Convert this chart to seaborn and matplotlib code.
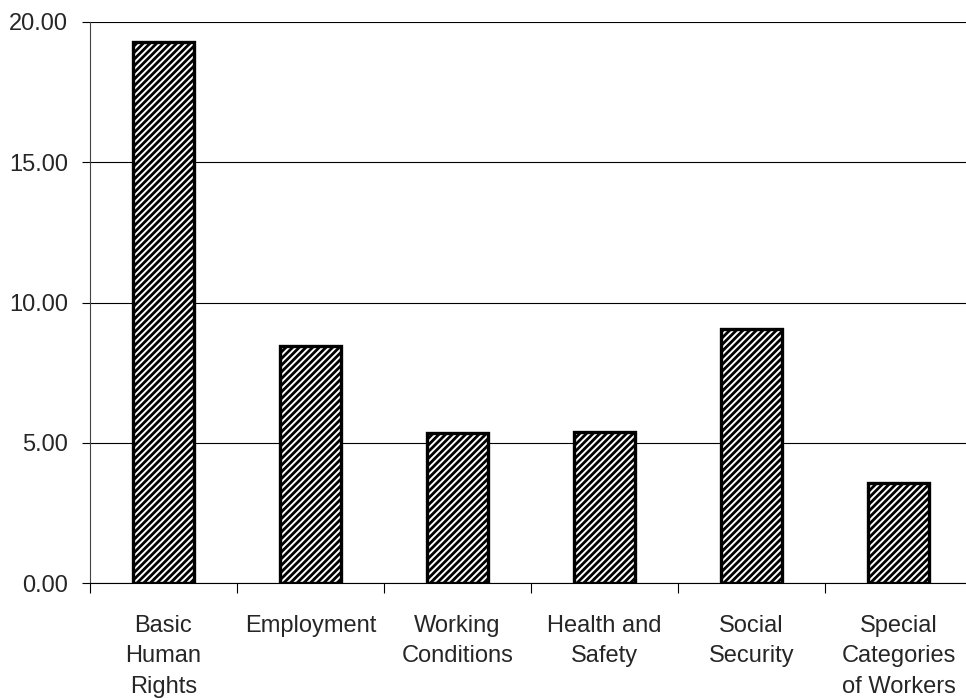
import matplotlib
matplotlib.use("Agg")
import matplotlib.pyplot as plt
import seaborn as sns
from matplotlib.ticker import FormatStrFormatter, FixedLocator

# Values
categories = ["Basic\nHuman\nRights", "Employment", "Working\nConditions",
              "Health and\nSafety", "Social\nSecurity", "Special\nCategories\nof Workers"]
values = [19.30, 8.44, 5.35, 5.37, 9.07, 3.58]
y_ticks = [0, 5, 10, 15, 20]

sns.set_theme(style="white")
plt.rcParams["font.family"] = ["Liberation Sans", "DejaVu Sans"]
plt.rcParams["hatch.linewidth"] = 2.0
plt.rcParams["hatch.color"] = "black"

fig = plt.figure(figsize=(9.66, 6.98), dpi=100)
ax = fig.add_axes([90 / 966, 115 / 698, 882 / 966, 561 / 698])

sns.barplot(x=categories, y=values, color="white", edgecolor="black",
            linewidth=2.4, hatch="/////", width=0.41, saturation=1, ax=ax)

ax.set_xlim(-0.5, 5.5)
ax.set_ylim(0, 20)
ax.set_yticks(y_ticks)
ax.yaxis.set_major_formatter(FormatStrFormatter("%.2f"))
ax.yaxis.grid(True, color="black", linewidth=0.8)
ax.set_axisbelow(True)

# category separators as minor ticks, labels at centres
ax.xaxis.set_minor_locator(FixedLocator([i - 0.5 for i in range(len(categories) + 1)]))
ax.tick_params(axis="x", which="major", length=0, pad=23, labelsize=17)
ax.tick_params(axis="x", which="minor", bottom=True, length=7, width=0.8, color="black", direction="out")
ax.tick_params(axis="y", left=True, length=6, width=0.8, color="black", direction="out",
               pad=10, labelsize=17)
for lbl in ax.get_xticklabels():
    lbl.set_linespacing(1.5)

for side in ["top", "right"]:
    ax.spines[side].set_visible(False)
ax.spines["left"].set_color("#444444")
ax.spines["left"].set_linewidth(0.8)
ax.spines["bottom"].set_color("black")
ax.spines["bottom"].set_linewidth(0.8)

ax.set_xlabel("")
ax.set_ylabel("")

fig.savefig("out.png", dpi=100)
